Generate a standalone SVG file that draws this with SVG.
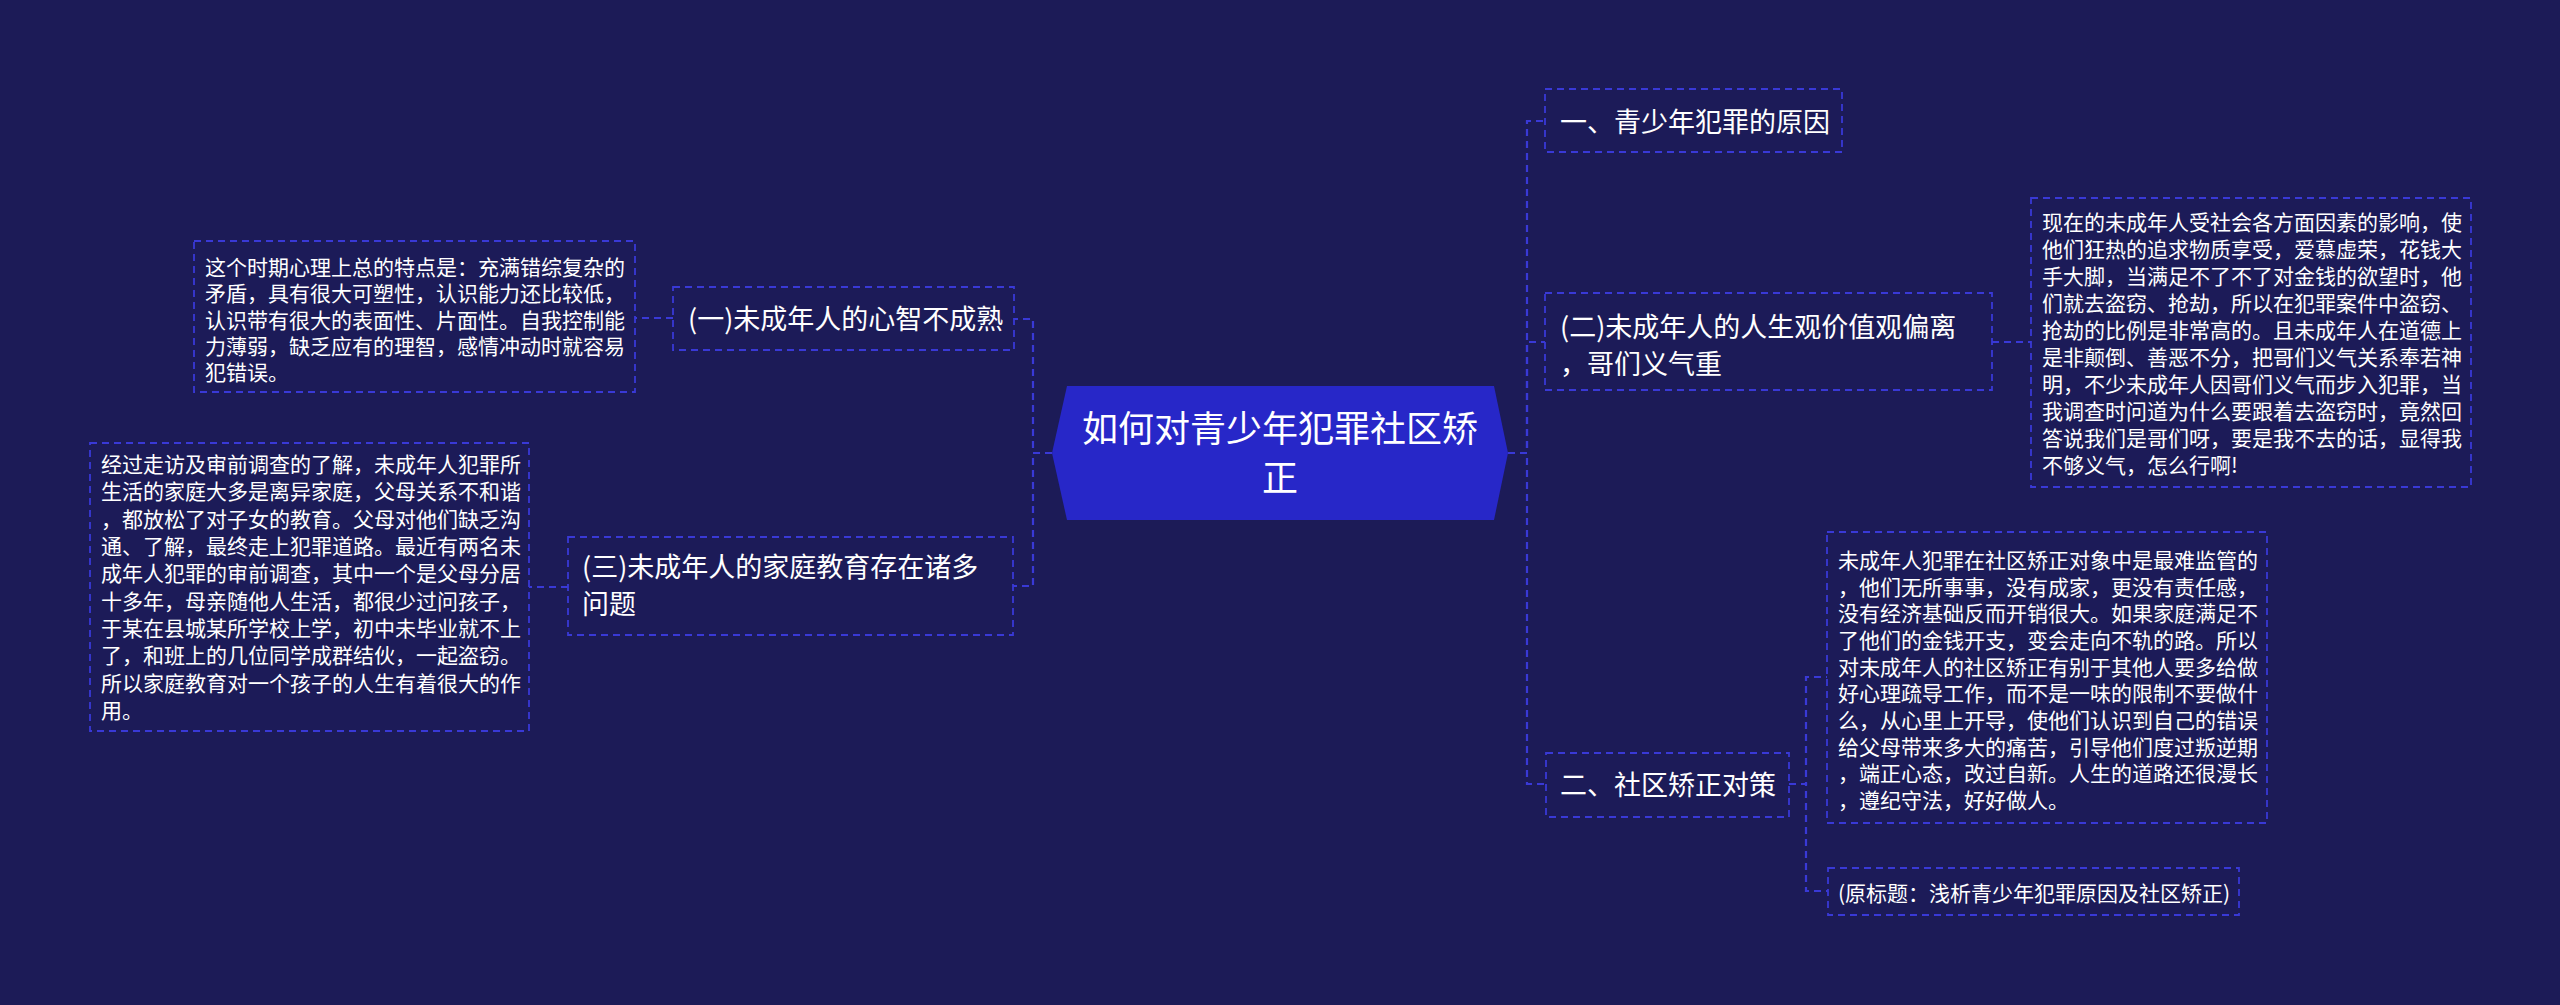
<svg xmlns="http://www.w3.org/2000/svg" width="2560" height="1005" viewBox="0 0 2560 1005">
<style>
text{font-family:"Noto Sans CJK SC","Liberation Sans",sans-serif;fill:#ffffff}
.box{fill:#1c1b58;stroke:#3939d6;stroke-width:1.8;stroke-dasharray:7 5}
.t27{font-size:27px}
.t21{font-size:21px}
.t36{font-size:36px}
.con{fill:none;stroke:#3939d6;stroke-width:2.2;stroke-dasharray:7 5}
</style>
<rect x="0" y="0" width="2560" height="1005" fill="#1c1b57"/>
<g id="connectors">
<path class="con" d="M1052,453 H1033 V319 H1014"/>
<path class="con" d="M1052,453 H1033 V586 H1013"/>
<path class="con" d="M673,318 H635"/>
<path class="con" d="M568,587 H529"/>
<path class="con" d="M1508,453 H1527 V121 H1545"/>
<path class="con" d="M1508,453 H1527 V342 H1545"/>
<path class="con" d="M1508,453 H1527 V784 H1546"/>
<path class="con" d="M1992,342 H2031"/>
<path class="con" d="M1789,784 H1806 V677 H1827"/>
<path class="con" d="M1789,784 H1806 V891 H1828"/>
</g>
<g id="root">
<polygon points="1052,453 1067,386 1494,386 1508,453 1494,520 1067,520" fill="#2727c8"/>
<text class="t36" x="1280" y="442" text-anchor="middle">如何对青少年犯罪社区矫</text>
<text class="t36" x="1280" y="491" text-anchor="middle">正</text>
</g>
<g id="n1">
<rect class="box" x="673" y="287" width="341" height="63"/>
<text class="t27" x="688" y="329">(一)未成年人的心智不成熟</text>
</g>
<g id="n1d">
<rect class="box" x="194" y="241" width="441" height="151"/>
<text class="t21" x="205" y="275">这个时期心理上总的特点是：充满错综复杂的</text>
<text class="t21" x="205" y="301">矛盾，具有很大可塑性，认识能力还比较低，</text>
<text class="t21" x="205" y="328">认识带有很大的表面性、片面性。自我控制能</text>
<text class="t21" x="205" y="354">力薄弱，缺乏应有的理智，感情冲动时就容易</text>
<text class="t21" x="205" y="380">犯错误。</text>
</g>
<g id="n3">
<rect class="box" x="568" y="537" width="445" height="98"/>
<text class="t27" x="582" y="577">(三)未成年人的家庭教育存在诸多</text>
<text class="t27" x="582" y="614">问题</text>
</g>
<g id="n3d">
<rect class="box" x="90" y="443" width="439" height="288"/>
<text class="t21" x="101" y="472">经过走访及审前调查的了解，未成年人犯罪所</text>
<text class="t21" x="101" y="499">生活的家庭大多是离异家庭，父母关系不和谐</text>
<text class="t21" x="101" y="527">，都放松了对子女的教育。父母对他们缺乏沟</text>
<text class="t21" x="101" y="554">通、了解，最终走上犯罪道路。最近有两名未</text>
<text class="t21" x="101" y="581">成年人犯罪的审前调查，其中一个是父母分居</text>
<text class="t21" x="101" y="609">十多年，母亲随他人生活，都很少过问孩子，</text>
<text class="t21" x="101" y="636">于某在县城某所学校上学，初中未毕业就不上</text>
<text class="t21" x="101" y="663">了，和班上的几位同学成群结伙，一起盗窃。</text>
<text class="t21" x="101" y="691">所以家庭教育对一个孩子的人生有着很大的作</text>
<text class="t21" x="101" y="718">用。</text>
</g>
<g id="r1">
<rect class="box" x="1545" y="89" width="297" height="63"/>
<text class="t27" x="1560" y="132">一、青少年犯罪的原因</text>
</g>
<g id="r2">
<rect class="box" x="1545" y="293" width="447" height="97"/>
<text class="t27" x="1560" y="337">(二)未成年人的人生观价值观偏离</text>
<text class="t27" x="1560" y="374">，哥们义气重</text>
</g>
<g id="r2d">
<rect class="box" x="2031" y="198" width="440" height="289"/>
<text class="t21" x="2042" y="230">现在的未成年人受社会各方面因素的影响，使</text>
<text class="t21" x="2042" y="257">他们狂热的追求物质享受，爱慕虚荣，花钱大</text>
<text class="t21" x="2042" y="284">手大脚，当满足不了不了对金钱的欲望时，他</text>
<text class="t21" x="2042" y="311">们就去盗窃、抢劫，所以在犯罪案件中盗窃、</text>
<text class="t21" x="2042" y="338">抢劫的比例是非常高的。且未成年人在道德上</text>
<text class="t21" x="2042" y="365">是非颠倒、善恶不分，把哥们义气关系奉若神</text>
<text class="t21" x="2042" y="392">明，不少未成年人因哥们义气而步入犯罪，当</text>
<text class="t21" x="2042" y="419">我调查时问道为什么要跟着去盗窃时，竟然回</text>
<text class="t21" x="2042" y="446">答说我们是哥们呀，要是我不去的话，显得我</text>
<text class="t21" x="2042" y="473">不够义气，怎么行啊!</text>
</g>
<g id="r3">
<rect class="box" x="1546" y="753" width="243" height="64"/>
<text class="t27" x="1560" y="795">二、社区矫正对策</text>
</g>
<g id="r3d1">
<rect class="box" x="1827" y="532" width="440" height="291"/>
<text class="t21" x="1838" y="568">未成年人犯罪在社区矫正对象中是最难监管的</text>
<text class="t21" x="1838" y="595">，他们无所事事，没有成家，更没有责任感，</text>
<text class="t21" x="1838" y="621">没有经济基础反而开销很大。如果家庭满足不</text>
<text class="t21" x="1838" y="648">了他们的金钱开支，变会走向不轨的路。所以</text>
<text class="t21" x="1838" y="675">对未成年人的社区矫正有别于其他人要多给做</text>
<text class="t21" x="1838" y="701">好心理疏导工作，而不是一味的限制不要做什</text>
<text class="t21" x="1838" y="728">么，从心里上开导，使他们认识到自己的错误</text>
<text class="t21" x="1838" y="755">给父母带来多大的痛苦，引导他们度过叛逆期</text>
<text class="t21" x="1838" y="781">，端正心态，改过自新。人生的道路还很漫长</text>
<text class="t21" x="1838" y="808">，遵纪守法，好好做人。</text>
</g>
<g id="r3d2">
<rect class="box" x="1828" y="868" width="411" height="47"/>
<text class="t21" x="1838" y="901">(原标题：浅析青少年犯罪原因及社区矫正)</text>
</g>
</svg>
